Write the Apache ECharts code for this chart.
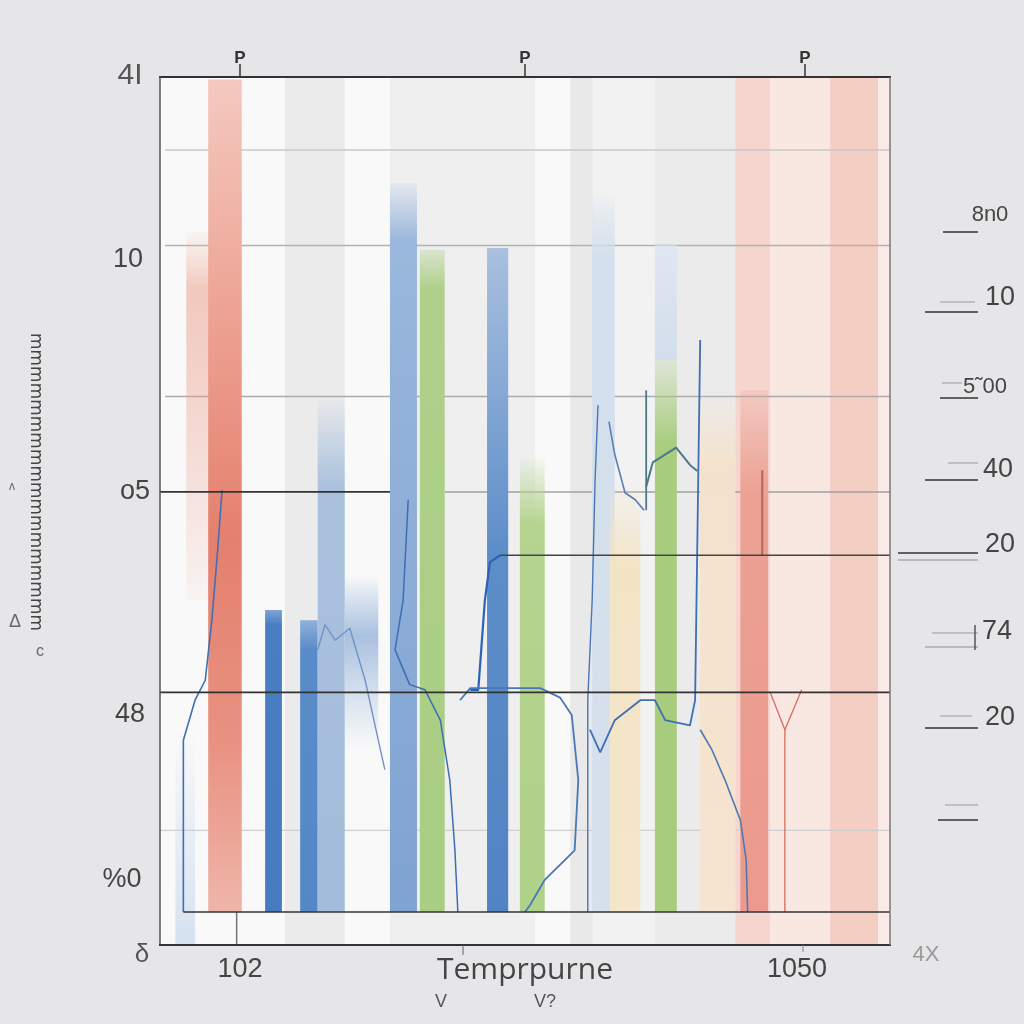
<!DOCTYPE html>
<html>
<head>
<meta charset="utf-8">
<script src="https://cdn.jsdelivr.net/npm/echarts@6/dist/echarts.min.js"></script>
<style>
html,body{margin:0;padding:0;background:#e6e6e8;}
#chart{width:1024px;height:1024px;}
</style>
</head>
<body>
<div id="chart"></div>
<script>
// ---------- DATA ----------
// background bands (x from, x to, y from, y to) in axis units 0..100
const bgX0 = [17.1, 31.5, 56.2, 59.3, 67.8, 78.8, 83.6, 91.8, 98.4];
const bgX1 = [25.3, 51.4, 59.3, 67.8, 78.8, 83.6, 91.8, 98.4, 100];
const bgY0 = [0, 0, 0, 0, 0, 0, 0, 0, 0];
const bgY1 = [100, 100, 100, 100, 100, 100, 100, 100, 100];

// coloured bars
const barX0 = [2.1, 3.6, 6.6, 14.4, 19.2, 21.6, 25.3, 31.5, 35.6, 44.8, 49.3, 59.2, 61.6, 67.8, 67.8, 74.0, 79.5];
const barX1 = [4.8, 6.8, 11.2, 16.7, 21.6, 25.3, 29.9, 35.2, 39.0, 47.7, 52.7, 62.3, 65.8, 70.8, 70.8, 78.8, 83.3];
const barY0 = [0, 39.7, 3.8, 3.8, 3.8, 3.8, 22.5, 3.8, 3.8, 3.8, 3.8, 3.8, 3.8, 67.4, 3.8, 3.8, 3.8];
const barY1 = [24.8, 82.1, 99.7, 38.6, 37.4, 63.4, 42.6, 87.8, 80.1, 80.3, 56.5, 87.0, 53.6, 80.6, 67.4, 63.9, 63.9];

// horizontal rules
const gridY  = [91.6, 80.6, 63.2, 52.2, 13.2, 52.2, 44.9, 29.1, 3.8];
const gridX0 = [0.7, 0.7, 0.7, 39.0, 0, 0, 46.6, 0, 3.2];
const gridX1 = [100, 100, 100, 100, 100, 31.5, 100, 100, 100];

// traces
const trace1 = [[3.2,3.8],[3.2,23.6],[4.8,28.2],[6.2,30.5],[7.1,37.4],[7.9,45.5],[8.5,52.4]];
const trace2 = [[21.6,34.0],[22.6,36.9],[24.0,35.1],[26.0,36.5],[28.1,30.5],[29.9,23.6],[30.8,20.2]];
const trace3 = [[34.0,51.3],[33.3,39.7],[32.2,34.0],[34.2,30.0],[36.3,29.4],[38.4,25.9],[39.7,19.0],[40.4,10.9],[40.8,3.8]];
const trace4 = [[42.5,29.4],[43.6,29.4],[44.5,39.7],[45.2,44.1],[46.6,44.9]];
const trace5 = [[41.1,28.2],[42.5,29.6],[46.6,29.6],[52.1,29.6],[54.8,28.5],[56.4,26.5],[57.3,19.0],[56.8,10.9],[52.7,7.5],[50.7,4.6],[50.0,3.8]];
const trace6 = [[58.6,3.8],[58.6,28.2],[59.2,39.7],[59.6,53.6],[60.0,62.2]];
const trace7 = [[58.9,24.8],[60.3,22.2],[62.3,25.9],[65.8,28.2],[67.8,28.2],[69.2,25.9],[72.6,25.3],[73.3,28.2],[74.0,69.7]];
const trace8 = [[66.6,63.9],[66.6,50.1]];
const trace9 = [[66.6,52.8],[67.5,55.6],[70.7,57.3],[72.6,55.3],[73.6,54.6]];
const trace10 = [[61.5,60.3],[62.3,56.5],[63.7,52.1],[65.1,51.3],[66.3,50.1]];
const trace11 = [[74.0,24.8],[75.6,22.5],[77.4,19.0],[79.5,14.4],[80.3,9.8],[80.5,3.8]];
const trace12 = [[83.6,29.1],[85.6,24.8],[85.6,3.8]];
const trace13 = [[85.6,24.8],[87.0,27.6],[87.9,29.4]];
const trace14 = [[82.5,54.7],[82.5,44.9]];
const trace15 = [[10.5,3.8],[10.5,0]];

// tick labels
const leftLabels = ['10', 'o5', '48', '%0'];
const rightLabels = ['8n0', '10', '5\u02dc00', '40', '20', '74', '20'];
const bottomLabels = ['102', 'Temprpurne', '1050'];
const topMarks = ['P', 'P', 'P'];

// ---------- STYLES ----------
const bgColors = ['#ebebeb','#efeff0','#e9e9ea','#f2f2f2','#ebebec','#f5d5cd','#f9e7e2','#f4cdc3','#f8ebe8'];
const G = (stops) => new echarts.graphic.LinearGradient(0,0,0,1, stops.map((c)=>({offset:c[0], color:c[1]})));
const barStyles = [
  G([[0,'rgba(190,210,235,0)'],[1,'rgba(190,210,235,0.6)']]),
  G([[0,'rgba(240,190,175,0.1)'],[0.15,'rgba(236,160,140,0.55)'],[1,'rgba(232,140,120,0.05)']]),
  G([[0,'#f4c9bf'],[0.3,'#eda090'],[0.55,'#e4806d'],[0.8,'#e89282'],[1,'#efb5a9']]),
  G([[0,'#7ea3d3'],[0.05,'#4a7ec2'],[1,'#467bc0']]),
  G([[0,'#8fb0da'],[0.1,'#5a8bc9'],[1,'#5587c7']]),
  G([[0,'rgba(167,191,221,0)'],[0.18,'#aac1de'],[1,'#a3bcdb']]),
  G([[0,'rgba(160,188,222,0)'],[0.35,'#a9c0df'],[1,'rgba(184,205,228,0)']]),
  G([[0,'rgba(150,180,220,0.1)'],[0.08,'#9ab7dc'],[1,'#7fa3d2']]),
  G([[0,'rgba(170,205,130,0.3)'],[0.06,'#aed08a'],[1,'#aacd85']]),
  G([[0,'#a9c0df'],[0.45,'#5e8ec9'],[1,'#5283c3']]),
  G([[0,'rgba(180,210,140,0)'],[0.15,'#b5d48f'],[1,'#b0d18a']]),
  G([[0,'rgba(205,218,235,0)'],[0.1,'#d3dfec'],[1,'#d6e0ec']]),
  G([[0,'rgba(243,228,198,0)'],[0.2,'#f3e4c6'],[1,'#f5e6cb']]),
  G([[0,'#dfe7f1'],[1,'#d3deec']]),
  G([[0,'rgba(170,205,130,0.2)'],[0.15,'#a9cd7f'],[1,'#a8cc7e']]),
  G([[0,'rgba(245,226,204,0)'],[0.15,'#f5e2cc'],[1,'#f6e4d0']]),
  G([[0,'rgba(235,157,144,0.2)'],[0.2,'#eca193'],[1,'#eb9a8d']])
];
const gridColors = ['#c9c9c9','#b2b2b2','#ababab','#a0a0a0','#cfcfcf','#333333','#444444','#333333','#333333'];
const gridWidths = [1.5,1.5,1.5,1.5,1.2,1.6,1.6,1.6,1.6];

// ---------- BUILD ----------
const chart = echarts.init(document.getElementById('chart'));
const bgData = bgX0.map((v,i)=>[v, bgX1[i], bgY0[i], bgY1[i], i]);
const barData = barX0.map((v,i)=>[v, barX1[i], barY0[i], barY1[i], i]);

function rectItem(fillFn){
  return function(params, api){
    const p0 = api.coord([api.value(0), api.value(3)]);
    const p1 = api.coord([api.value(1), api.value(2)]);
    return {type:'rect', shape:{x:p0[0], y:p0[1], width:p1[0]-p0[0], height:p1[1]-p0[1]},
            style:{fill: fillFn(api.value(4))}};
  };
}

const series = [];
series.push({type:'custom', name:'bands', z:1, silent:true, renderItem: rectItem(i=>bgColors[i]), data:bgData, encode:{x:[0,1], y:[2,3]}});
gridY.forEach((y,i)=>{
  const dark = gridColors[i] === '#333333' || gridColors[i] === '#444444';
  series.push({type:'line', z: dark ? 6 : 2, silent:true, showSymbol:false, animation:false,
    data:[[gridX0[i], y],[gridX1[i], y]], lineStyle:{color:gridColors[i], width:gridWidths[i]}});
});
series.push({type:'custom', name:'bars', z:3, silent:true, renderItem: rectItem(i=>barStyles[i]), data:barData, encode:{x:[0,1], y:[2,3]}});

const traces = [
  [trace1,'#3f6fb5',1.6],[trace2,'#6f93c6',1.4],[trace3,'#3e6db3',1.5],[trace4,'#2a62b8',2.2],
  [trace5,'#4a78b6',1.8],[trace6,'#4a76b6',1.4],[trace7,'#3f6fb0',1.8],[trace8,'#4d7a88',1.8],
  [trace9,'#4d7a88',2],[trace10,'#5a7fb0',1.6],[trace11,'#4d78b0',1.6],[trace12,'#d86b5e',1.3],
  [trace13,'#d86b5e',1.3],[trace14,'#b86a62',2.2],[trace15,'#777777',1.5]
];
traces.forEach(t=>{
  series.push({type:'line', z:5, silent:true, showSymbol:false, animation:false, data:t[0],
    lineStyle:{color:t[1], width:t[2]}});
});

// texts
const txt = (x,y,text,size,opts={}) => ({type:'text', x, y, z:100, rotation: opts.rot||0,
  style:{text, fontSize:size, fontFamily: opts.font||'Liberation Sans', fill: opts.color||'#444',
    fontWeight: opts.weight||'normal', textAlign: opts.align||'center', verticalAlign:'middle'}});
const lineG = (x1,y1,x2,y2,color,w) => ({type:'line', z:100, shape:{x1,y1,x2,y2}, style:{stroke:color, lineWidth:w}});

const graphics = [];
// plot frame drawn on top of the bands
graphics.push(lineG(159, 77, 891, 77, '#333', 1.8));
graphics.push(lineG(160, 77, 160, 945, '#555', 1.5));
graphics.push(lineG(159, 945, 891, 945, '#333', 1.8));
graphics.push(lineG(890, 77, 890, 945, '#777', 1.5));

const leftY = [260, 492, 715, 880];
const leftX = [128, 135, 130, 122];
leftLabels.forEach((t,i)=>graphics.push(txt(leftX[i], leftY[i], t, 27)));
graphics.push(txt(142, 955, '\u03b4', 26, {color:'#555'}));
graphics.push(txt(130, 76, '4I', 30, {color:'#555'}));
const rightY = [215, 298, 387, 470, 545, 632, 718];
const rightX = [990, 1000, 985, 998, 1000, 997, 1000];
rightLabels.forEach((t,i)=>graphics.push(txt(rightX[i], rightY[i], t, i===0||i===2?22:27, {color:'#444'})));
[[943,232],[925,312],[940,398],[925,480],[898,553],[898,560],[925,647],[925,728],[938,820]].forEach(p=>{
  graphics.push(lineG(p[0], p[1], 978, p[1], p[1]===560||p[1]===647?'#aaa':'#333', 1.6));
});
[[940,302,975],[942,383,962],[948,463,978],[932,633,978],[940,716,972],[945,805,978]].forEach(p=>{
  graphics.push(lineG(p[0], p[1], p[2], p[1], '#999', 1));
});
graphics.push(lineG(975,625,975,650,'#555',1.5));
const bottomX = [240, 525, 797];
bottomLabels.forEach((t,i)=>graphics.push(txt(bottomX[i], 970, t, i===1?30:27, {font: i===1?'Open Sans':'Liberation Sans', color:'#444'})));
graphics.push(txt(926, 955, '4X', 22, {color:'#9a9a9a'}));
graphics.push(txt(441, 1002, 'V', 18, {color:'#555'}));
graphics.push(txt(545, 1002, 'V?', 18, {color:'#555'}));
const topX = [240, 525, 805];
topMarks.forEach((t,i)=>{
  graphics.push(txt(topX[i], 58, t, 17, {weight:'bold', color:'#333'}));
  graphics.push(lineG(topX[i], 64, topX[i], 77, '#333', 1.5));
});
graphics.push(lineG(463, 945, 463, 955, '#666', 1));
graphics.push(lineG(803, 945, 803, 952, '#888', 1));
// rotated axis title
graphics.push(txt(35, 482, 'mmmmmmmmmmmmmmmmmm', 17, {rot:-Math.PI/2, color:'#444', font:'DejaVu Sans'}));
graphics.push(txt(15, 622, '\u0394', 18, {color:'#666'}));
graphics.push(txt(40, 652, 'c', 16, {color:'#666'}));
graphics.push(txt(12, 487, '\u028c', 12, {color:'#666'}));

chart.setOption({
  backgroundColor:'#e6e6e8',
  animation:false,
  grid:{left:160, right:134, top:77, bottom:79, show:true, backgroundColor:'#f9f9f9', borderColor:'#4a4a4a', borderWidth:0},
  xAxis:{type:'value', min:0, max:100, axisLabel:{show:false}, axisLine:{show:false}, axisTick:{show:false}, splitLine:{show:false}},
  yAxis:{type:'value', min:0, max:100, axisLabel:{show:false}, axisLine:{show:false}, axisTick:{show:false}, splitLine:{show:false}},
  series,
  graphic: graphics
});
</script>
</body>
</html>
